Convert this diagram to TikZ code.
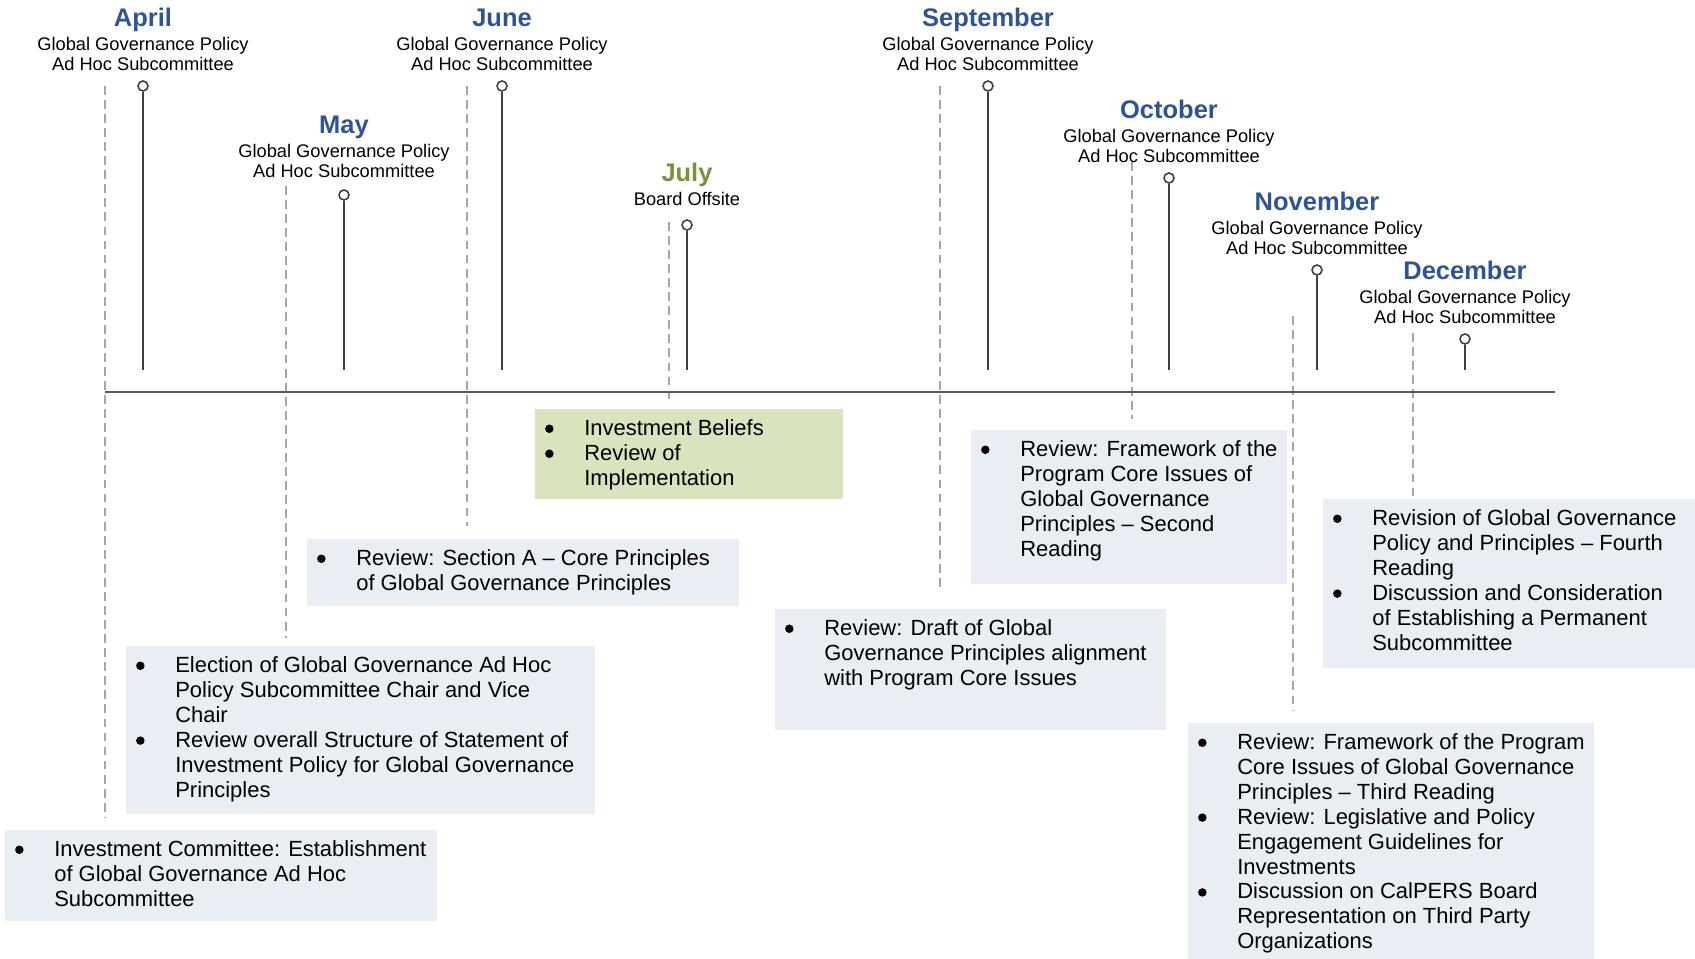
\documentclass[tikz,border=0pt]{standalone}
\usepackage{fontspec}
\setmainfont{Liberation Sans}
\usepackage{enumitem}
\usetikzlibrary{positioning}
\definecolor{monthblue}{RGB}{46,84,150}
\definecolor{julygreen}{RGB}{118,146,60}
\definecolor{noteblue}{RGB}{233,237,244}
\definecolor{notegreen}{RGB}{215,228,189}
\definecolor{guidegray}{RGB}{166,166,166}
\definecolor{stemgray}{RGB}{64,64,64}
\definecolor{axisgray}{RGB}{89,89,89}
\newcommand\dotmark{\tikz[baseline=-0.13cm]\fill (0,0) circle (0.085cm);}
\setlist[itemize]{label=\dotmark, leftmargin=0.98cm, labelsep=0.615cm, nosep}
\tikzset{
  % Specifications for style of nodes:
  month/.style = {
    font=\fontsize{14.5}{16}\selectfont\bfseries,
    inner sep=0pt,
    text height=0.75em,
    text depth=0.25em
  },
  subtitle/.style = {
    font=\fontsize{10.4}{11.6}\selectfont,
    align=center,
    inner sep=0pt
  },
  pinhead/.style = {
    circle,
    draw=stemgray,
    line width=0.9pt,
    fill=white,
    minimum size=0.2cm,
    inner sep=0pt
  },
  notebox/.style = {
    fill=noteblue,
    inner sep=0pt,
    anchor=north west,
    font=\fontsize{12.5}{14.2}\selectfont
  },
  stem/.style = {draw=stemgray, line width=1.2pt},
  guide/.style = {draw=guidegray, line width=0.8pt, dash pattern=on 5pt off 3pt},
  timeline/.style = {draw=axisgray, line width=1.2pt},
}
\newcommand\milestone[7][0.18cm]{
  \node[pinhead] (#2pin) at (#3,#4) {};
  \node[subtitle, above=#1 of #2pin] (#2sub) {#7};
  \node[month, text=#5, above=0.1cm of #2sub] (#2title) {#6};
  \draw[stem] (#2pin.south) -- (#2pin |- stemend);
}
\newcommand\agenda[3]{\parbox[t][#2][t]{#1}{\raggedright\vspace*{0.2cm}\begin{itemize}#3\end{itemize}}}

\begin{document}
\begin{tikzpicture}[x=0.02cm, y=-0.02cm]
  \useasboundingbox (0,0) rectangle (1695,959);
  % dashed guides
  \draw[guide] (105,86) -- (105,818);
  \draw[guide] (286,186) -- (286,638);
  \draw[guide] (467,86) -- (467,526);
  \draw[guide] (669,222) -- (669,402);
  \draw[guide] (940,86) -- (940,589);
  \draw[guide] (1132,162) -- (1132,419);
  \draw[guide] (1293,316) -- (1293,710);
  \draw[guide] (1413,333) -- (1413,497);
  % time axis
  \coordinate (stemend) at (0,370);
  \coordinate (axisstart) at (105,392);
  \coordinate (axisend) at (1555,392);
  \draw[timeline] (axisstart) -- (axisend);
  % milestones
  \milestone{apr}{143}{86}{monthblue}{April}{Global Governance Policy\\Ad Hoc Subcommittee}
  \milestone[0.22cm]{may}{344}{195}{monthblue}{May}{Global Governance Policy\\Ad Hoc Subcommittee}
  \milestone{jun}{502}{86}{monthblue}{June}{Global Governance Policy\\Ad Hoc Subcommittee}
  \milestone[0.27cm]{jul}{687}{225}{julygreen}{July}{Board Offsite}
  \milestone{sep}{988}{86}{monthblue}{September}{Global Governance Policy\\Ad Hoc Subcommittee}
  \milestone{oct}{1169}{178}{monthblue}{October}{Global Governance Policy\\Ad Hoc Subcommittee}
  \milestone{nov}{1317}{270}{monthblue}{November}{Global Governance Policy\\Ad Hoc Subcommittee}
  \milestone{dec}{1465}{339}{monthblue}{December}{Global Governance Policy\\Ad Hoc Subcommittee}
  % agenda boxes
  \node[notebox] (committee) at (5,830) {\agenda{8.64cm}{1.82cm}{
    \item Investment Committee: Establishment\\ of Global Governance Ad Hoc\\ Subcommittee}};
  \node[notebox] (election) at (126,646) {\agenda{9.38cm}{3.36cm}{
    \item Election of Global Governance Ad Hoc\\ Policy Subcommittee Chair and Vice\\ Chair
    \item Review overall Structure of Statement of\\ Investment Policy for Global Governance\\ Principles}};
  \node[notebox] (sectiona) at (307,539) {\agenda{8.64cm}{1.34cm}{
    \item Review: Section A -- Core Principles\\ of Global Governance Principles}};
  \node[notebox, fill=notegreen] (beliefs) at (535,409) {\agenda{6.16cm}{1.8cm}{
    \item Investment Beliefs
    \item Review of\\ Implementation}};
  \node[notebox] (draft) at (775,609) {\agenda{7.82cm}{2.42cm}{
    \item Review: Draft of Global\\ Governance Principles alignment\\ with Program Core Issues}};
  \node[notebox] (second) at (971,430) {\agenda{6.32cm}{3.08cm}{
    \item Review: Framework of the\\ Program Core Issues of\\ Global Governance\\ Principles -- Second\\ Reading}};
  \node[notebox] (third) at (1188,723) {\agenda{8.12cm}{4.72cm}{
    \item Review: Framework of the Program\\ Core Issues of Global Governance\\ Principles -- Third Reading
    \item Review: Legislative and Policy\\ Engagement Guidelines for\\ Investments
    \item Discussion on CalPERS Board\\ Representation on Third Party\\ Organizations}};
  \node[notebox] (fourth) at (1323,499) {\agenda{7.44cm}{3.38cm}{
    \item Revision of Global Governance\\ Policy and Principles -- Fourth\\ Reading
    \item Discussion and Consideration\\ of Establishing a Permanent\\ Subcommittee}};
\end{tikzpicture}
\end{document}
